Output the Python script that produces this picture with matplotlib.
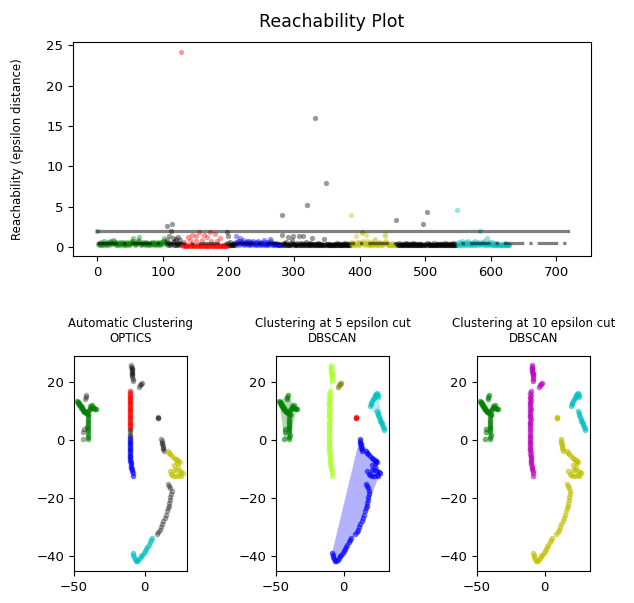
import numpy as np
import matplotlib
matplotlib.use("Agg")
import matplotlib.pyplot as plt

# ---------------- data ----------------
n_samples = 719

# reachability values in cluster ordering, one list per run of the ordering
reach_green = [2.0, 0.4, 0.3, 0.5, 0.4, 0.3, 0.6, 0.4, 0.5, 0.3,
               0.4, 0.7, 0.5, 0.4, 0.3, 0.5, 0.6, 0.4, 0.3, 0.5,
               0.8, 0.6, 0.4, 0.5, 0.9, 0.7, 0.5, 0.4, 0.6, 0.3,
               0.4, 0.5, 0.3, 0.4, 0.6, 0.5, 0.3, 0.4, 0.5, 0.6,
               0.4, 0.3, 0.5, 0.4, 0.3, 0.4, 0.6, 0.5, 0.4, 0.3,
               0.5, 0.4, 0.6, 0.8, 1.1, 0.7, 0.5, 0.4, 0.3, 0.5,
               0.4, 0.6, 0.9, 1.2, 0.8, 0.5, 0.4, 0.3, 0.4, 0.5,
               0.6, 0.4, 0.3, 0.5, 0.4, 0.6, 0.5, 0.3, 0.4, 0.5,
               0.4, 0.3, 0.5, 0.6, 0.4, 0.5, 0.3, 0.4, 0.6, 0.5,
               0.4, 0.3, 0.4, 0.5, 0.6, 0.4, 0.3, 0.5, 0.4, 0.6,
               0.8, 1.1, 0.7, 0.5, 0.4, 0.6]
reach_noise1 = [2.6, 0.9, 0.3, 1.3, 0.5, 0.2, 0.4, 2.0, 2.85, 0.6, 1.1,
                0.3, 0.2, 0.8, 1.0, 0.4, 0.2, 1.2, 0.5, 0.3, 0.9, 0.4]
reach_red = [24.1, 0.3, 0.2, 0.1, 0.6, 0.1, 0.2, 0.1, 0.1, 0.2,
             1.2, 0.1, 0.2, 0.9, 0.1, 0.1, 0.2, 1.5, 0.1, 0.2,
             0.1, 0.1, 1.3, 0.8, 0.1, 0.2, 0.1, 1.8, 0.2, 0.1,
             0.1, 0.9, 0.1, 0.2, 0.1, 1.5, 0.1, 0.1, 0.2, 0.1,
             1.2, 0.1, 0.2, 0.1, 1.8, 0.1, 0.8, 0.2, 0.1, 0.1,
             0.2, 0.1, 1.6, 0.1, 0.1, 0.8, 0.2, 0.1, 0.1, 1.1,
             0.1, 0.2, 0.1, 0.1, 0.2, 0.1, 0.1, 0.2, 0.1, 0.1]
reach_noise2 = [1.8, 1.4, 0.5, 0.3, 0.2, 0.6, 0.3, 0.2, 0.4, 0.3, 0.2, 0.5, 0.3]
reach_blue = [1.3, 0.6, 0.4, 0.8, 0.5, 0.3, 1.1, 0.7, 0.5, 0.4,
              0.6, 0.9, 0.5, 0.3, 0.4, 0.6, 0.5, 0.8, 0.4, 0.3,
              0.5, 0.7, 0.4, 0.6, 0.3, 0.5, 0.4, 0.8, 0.5, 0.3,
              0.4, 0.6, 0.5, 0.3, 0.7, 0.4, 0.5, 0.3, 0.4, 0.6,
              0.5, 0.3, 0.4, 0.9, 0.6, 0.4, 0.3, 0.5, 0.4, 0.3,
              0.6, 0.4, 0.5, 1.0, 0.7, 0.4, 0.3, 0.5, 0.4, 0.3,
              0.4, 0.3, 0.5, 0.4, 0.3, 0.2, 0.4, 0.3, 0.2, 0.3]
reach_noise3 = [4.0, 1.5, 0.3, 0.5, 0.2, 0.4, 0.3, 0.6, 0.2, 0.3,
                1.2, 0.4, 0.3, 0.2, 0.5, 0.3, 0.9, 0.4, 1.3, 0.3,
                0.2, 0.4, 0.3, 0.5, 0.2, 0.3, 1.3, 0.4, 0.2, 0.3,
                0.5, 0.3, 1.4, 0.2, 0.4, 0.3, 0.2, 0.6, 0.3, 5.2,
                0.3, 0.4, 0.2, 0.5, 0.3, 0.2, 1.1, 0.3, 0.4, 0.2,
                0.3, 16.0, 0.4, 0.2, 0.3, 0.5, 0.2, 0.3, 0.4, 0.2,
                0.3, 0.2, 0.4, 0.3, 1.0, 0.2, 0.3, 7.9, 0.4, 0.2,
                0.3, 0.2, 0.4, 0.3, 0.2, 0.3, 0.4, 0.2, 0.3, 0.2,
                0.4, 0.3, 0.2, 0.3, 0.5, 0.2, 0.3, 0.2, 0.4, 0.3,
                0.2, 0.3, 0.2, 0.4, 0.3, 0.2, 0.3, 0.5, 0.2, 0.3,
                0.2, 0.4, 0.3, 0.2, 0.3]
reach_yellow = [3.9, 0.5, 0.3, 0.6, 0.4, 0.3, 0.5, 0.2, 0.4, 1.4,
                0.6, 0.3, 0.5, 0.4, 0.3, 0.6, 0.5, 1.9, 1.7, 0.8,
                0.5, 0.4, 0.3, 0.5, 1.5, 0.7, 0.4, 0.3, 0.5, 0.2,
                0.4, 0.6, 0.3, 0.5, 0.4, 0.3, 0.7, 1.0, 0.4, 0.3,
                0.5, 0.2, 0.4, 0.3, 0.6, 0.5, 0.4, 0.3, 0.5, 0.4,
                0.3, 0.6, 1.3, 1.6, 0.7, 0.5, 0.4, 0.3, 0.2, 0.4,
                0.3, 0.5, 0.2, 0.4, 0.3, 0.2, 0.4, 0.3, 0.2, 0.3]
reach_noise4 = [3.3, 0.4, 0.2, 0.3, 0.5, 0.2, 0.3, 0.4, 0.2, 0.3,
                0.2, 0.4, 0.3, 0.2, 0.5, 0.3, 0.2, 0.3, 0.4, 0.2,
                0.3, 0.2, 0.4, 0.3, 0.2, 0.3, 0.5, 0.2, 0.3, 0.4,
                0.2, 0.3, 0.2, 0.4, 0.3, 0.2, 0.3, 0.4, 0.2, 0.3,
                0.2, 2.8, 0.3, 0.4, 0.2, 0.3, 0.5, 4.3, 0.2, 0.3,
                0.4, 0.2, 0.3, 0.2, 0.4, 0.3, 0.2, 0.3, 0.5, 0.2,
                0.3, 0.2, 0.4, 0.3, 0.2, 0.3, 0.4, 0.2, 0.3, 0.2,
                0.4, 0.3, 0.2, 0.3, 0.5, 0.2, 0.3, 0.2, 0.4, 0.3,
                0.2, 0.3, 0.2, 0.4, 0.3, 0.2, 0.3, 0.5, 0.2, 0.3,
                0.2, 0.3]
reach_cyan = [4.6, 0.5, 0.3, 0.6, 0.4, 0.2, 0.5, 0.3, 0.8, 0.4,
              0.3, 0.5, 0.2, 0.4, 0.6, 0.3, 0.5, 0.7, 0.4, 0.3,
              0.5, 0.2, 0.4, 0.3, 0.6, 0.5, 0.3, 0.4, 0.8, 0.5,
              0.3, 0.4, 0.6, 0.3, 0.5, 0.4, 2.0, 0.3, 0.6, 0.4,
              0.5, 0.3, 0.7, 0.4, 0.2, 0.5, 1.1, 0.3, 0.4, 0.6,
              0.3, 0.5, 0.4, 0.2, 0.6, 0.3, 0.5, 0.4, 0.3, 0.2,
              0.4, 0.3, 0.5, 0.2, 0.4, 0.3, 0.2, 0.4, 0.3, 0.2,
              0.3, 0.4, 0.2, 0.3, 0.5, 0.2, 0.3, 0.4, 0.2, 0.3,
              0.2]
reach_runs = [reach_green, reach_noise1, reach_red, reach_noise2, reach_blue,
              reach_noise3, reach_yellow, reach_noise4, reach_cyan]
reach_run_labels = [0, -1, 1, -1, 2, -1, 3, -1, 4]

eps_lines = [2.0, 0.5]

# 2-D samples, grouped by structure
g_core_x = [-47.6, -47.0, -46.4, -45.8, -45.2, -44.6, -44.0, -43.4, -42.8, -42.2, -41.6, -41.0,
            -47.2, -46.2, -45.0, -43.8, -42.6, -41.4,
            -39.6, -38.9, -38.2, -37.5, -36.8, -36.1, -35.4, -34.7, -38.5, -37.0,
            -40.0, -40.2, -40.4, -40.3, -40.1, -40.2, -40.4, -40.3, -40.1, -40.0, -40.2, -40.1,
            -39.8, -40.5]
g_core_y = [13.3, 13.0, 12.6, 12.2, 11.8, 11.3, 10.9, 10.5, 10.1, 9.8, 9.6, 9.5,
            12.6, 12.0, 11.2, 10.3, 9.6, 9.2,
            10.2, 10.8, 11.2, 11.4, 11.2, 11.0, 10.8, 10.7, 11.8, 12.0,
            9.0, 8.2, 7.4, 6.6, 5.8, 5.0, 4.2, 3.4, 2.6, 1.8, 1.0, 0.3,
            8.6, 4.6]
g_edge_x = [-41.3, -41.8, -42.2, -43.0, -43.4, -43.8]
g_edge_y = [15.6, 14.8, 14.0, 3.6, 2.8, 0.3]
v_top_x = [-9.4, -9.3, -9.1, -9.0, -8.9, -8.8, -8.7, -8.6, -8.5, -8.4, -9.2, -8.8]
v_top_y = [25.9, 25.3, 24.7, 24.1, 23.5, 22.9, 22.3, 21.7, 21.1, 20.5, 24.4, 23.2]
v_mid_x = [-10.2, -10.4, -10.3, -10.5, -10.4, -10.3, -10.5, -10.4, -10.6, -10.4, -10.3,
           -10.5, -10.4, -10.6, -10.5, -10.4, -10.3, -10.5, -10.4, -10.6, -10.5, -10.4]
v_mid_y = [16.8, 16.2, 15.6, 15.0, 14.4, 13.8, 13.2, 12.6, 12.0, 11.4, 10.8,
           10.2, 9.6, 9.0, 8.4, 7.8, 7.2, 6.6, 6.0, 5.4, 4.8, 4.2]
v_gap_x = [-10.5, -10.6, -10.4, -10.5]
v_gap_y = [3.4, 2.6, 1.8, 1.2]
v_low_x = [-10.5, -10.6, -10.5, -10.4, -10.6, -10.5, -10.4, -10.5, -10.3, -10.4, -10.2,
           -10.3, -10.1, -10.0, -9.9, -9.8, -9.6, -9.4, -9.1, -8.8, -8.5, -8.3]
v_low_y = [0.6, 0.0, -0.6, -1.2, -1.8, -2.4, -3.0, -3.6, -4.2, -4.8, -5.4,
           -6.0, -6.6, -7.2, -7.8, -8.4, -9.0, -9.6, -10.2, -10.8, -11.5, -12.3]
small_x = [-3.8, -3.0, -2.3, -1.6]
small_y = [18.4, 18.9, 19.3, 19.6]
lone_x = [9.3, 9.4, 9.5]
lone_y = [7.8, 7.7, 7.6]
ur_x = [19.5, 20.1, 20.7, 21.3, 21.9, 22.5, 23.1, 23.7, 24.3, 24.9, 25.3, 25.6,
        24.8, 25.3, 25.8, 26.3, 26.8, 27.3, 27.8, 28.3, 28.8, 29.3, 29.8, 30.3]
ur_y = [11.6, 12.3, 12.9, 13.5, 14.0, 14.6, 15.1, 15.6, 16.0, 16.2, 15.6, 14.8,
        10.0, 9.3, 8.6, 7.9, 7.3, 6.7, 6.2, 5.7, 5.1, 4.5, 4.0, 3.5]
r_top_x = [11.9, 12.1, 12.4, 12.6, 12.9, 13.1, 13.4, 13.7]
r_top_y = [0.3, -0.3, -0.9, -1.5, -2.1, -2.7, -3.3, -3.9]
r_bend_x = [16.5, 17.4, 18.4, 19.6, 20.8, 22.0, 23.1, 24.0, 24.8, 23.6, 22.4, 24.8,
            26.0, 27.1, 25.9, 24.5, 22.8, 21.2, 19.8, 18.9, 17.7, 21.2, 20.8, 23.0]
r_bend_y = [-4.0, -4.4, -4.9, -5.5, -6.1, -6.5, -6.9, -7.2, -7.5, -9.2, -10.3, -10.9,
            -11.2, -11.5, -12.3, -12.0, -12.4, -12.3, -12.0, -11.8, -10.9, -8.6, -10.3, -8.0]
r_mid_x = [16.3, 17.2, 18.3, 19.2, 18.8, 18.4, 18.0, 17.6, 17.2, 16.7, 16.0, 15.2,
           14.3, 13.4, 12.5, 11.6, 10.7, 9.8, 8.8]
r_mid_y = [-15.2, -15.8, -16.5, -17.5, -18.6, -19.7, -20.7, -21.7, -22.7, -23.7, -24.7,
           -25.8, -26.9, -28.0, -29.0, -30.0, -31.0, -31.9, -32.6]
r_tail_x = [5.6, 4.7, 3.8, 2.9, 2.0, 1.1, 0.2, -0.7, -1.6, -2.5, -3.4, -4.3, -5.2,
            -6.1, -7.0, -7.6, -8.1, -8.5]
r_tail_y = [-33.8, -34.6, -35.4, -36.2, -37.0, -37.7, -38.4, -39.0, -39.6, -40.2,
            -40.8, -41.4, -41.9, -42.0, -41.3, -40.6, -39.8, -39.1]

groups = ["g_core", "g_edge", "v_top", "v_mid", "v_gap", "v_low", "small", "lone",
          "ur", "r_top", "r_bend", "r_mid", "r_tail"]
group_x = [g_core_x, g_edge_x, v_top_x, v_mid_x, v_gap_x, v_low_x, small_x, lone_x,
           ur_x, r_top_x, r_bend_x, r_mid_x, r_tail_x]
group_y = [g_core_y, g_edge_y, v_top_y, v_mid_y, v_gap_y, v_low_y, small_y, lone_y,
           ur_y, r_top_y, r_bend_y, r_mid_y, r_tail_y]
# cluster labels per group (None = not shown, -1 = noise)
labels_optics = [0, -1, -1, 1, -1, 2, -1, -1, None, -1, 3, -1, 4]
labels_db5 = [0, 0, 1, 1, 1, 1, 2, 3, 4, 5, 5, 5, 5]
labels_db10 = [0, 0, 1, 1, 1, 1, 1, 2, 3, 2, 2, 2, 2]

# ---------------- styles ----------------
optics_colors = {0: "g", 1: "r", 2: "b", 3: "y", 4: "c", -1: "k"}
db5_colors = {0: "g", 1: "greenyellow", 2: "olive", 3: "r", 4: "c", 5: "b"}
db10_colors = {0: "g", 1: "m", 2: "y", 3: "c"}
MS = 4.0


def convex_hull(pts):
    pts = sorted(set(pts))
    if len(pts) < 3:
        return pts

    def cross(o, a, b):
        return (a[0] - o[0]) * (b[1] - o[1]) - (a[1] - o[1]) * (b[0] - o[0])
    lower, upper = [], []
    for p in pts:
        while len(lower) >= 2 and cross(lower[-2], lower[-1], p) <= 0:
            lower.pop()
        lower.append(p)
    for p in reversed(pts):
        while len(upper) >= 2 and cross(upper[-2], upper[-1], p) <= 0:
            upper.pop()
        upper.append(p)
    return lower[:-1] + upper[:-1]


fig = plt.figure(figsize=(6.34, 6.03), dpi=100)
W, H = 634.0, 603.0
ax1 = fig.add_axes([73 / W, 1 - 256 / H, (591 - 73) / W, (256 - 42) / H])
ax2 = fig.add_axes([74 / W, 1 - 571 / H, 113 / W, 215 / H])
ax3 = fig.add_axes([276 / W, 1 - 571 / H, 113 / W, 215 / H])
ax4 = fig.add_axes([477 / W, 1 - 571 / H, 113 / W, 215 / H])

# reachability plot
start = 0
for vals, lab in zip(reach_runs, reach_run_labels):
    idx = np.arange(start, start + len(vals))
    ax1.plot(idx, vals, "o", color=optics_colors[lab], alpha=0.4, ms=3.8, mew=0)
    start += len(vals)
space = np.arange(n_samples)
ax1.plot(space, np.full_like(space, eps_lines[0], dtype=float), "k-", alpha=0.5, lw=2.3)
ax1.plot(space, np.full_like(space, eps_lines[1], dtype=float), "k-.", alpha=0.5, lw=2.3)
ax1.set_xlim(-37, 752.6)
ax1.set_ylim(-1.12, 25.4)
ax1.set_xticks(range(0, 701, 100))
ax1.set_yticks(range(0, 26, 5))
ax1.set_ylabel("Reachability (epsilon distance)", fontsize=8.5, labelpad=16)
ax1.set_title("Reachability Plot", fontsize=12.5, pad=11)

# OPTICS clustering
for gx, gy, lab in zip(group_x, group_y, labels_optics):
    if lab is None:
        continue
    a = 0.35 if lab == -1 else 0.6
    ax2.plot(gx, gy, "o", color=optics_colors[lab], alpha=a, ms=MS, mew=0)
ax2.set_title("Automatic Clustering\nOPTICS", fontsize=8.5, pad=10)

# DBSCAN at 5
for lab, col in db5_colors.items():
    xs = [x for gx, l in zip(group_x, labels_db5) if l == lab for x in gx]
    ys = [y for gy, l in zip(group_y, labels_db5) if l == lab for y in gy]
    ax3.plot(xs, ys, "o", color=col, alpha=0.6, ms=MS, mew=0)
    hull = convex_hull(list(zip(xs, ys)))
    if len(hull) >= 3:
        hx, hy = zip(*hull)
        ax3.fill(hx, hy, color=col, alpha=0.3, lw=0)
ax3.set_title("Clustering at 5 epsilon cut\nDBSCAN", fontsize=8.5, pad=10)

# DBSCAN at 10
for lab, col in db10_colors.items():
    xs = [x for gx, l in zip(group_x, labels_db10) if l == lab for x in gx]
    ys = [y for gy, l in zip(group_y, labels_db10) if l == lab for y in gy]
    ax4.plot(xs, ys, "o", color=col, alpha=0.6, ms=MS, mew=0)
ax4.set_title("Clustering at 10 epsilon cut\nDBSCAN", fontsize=8.5, pad=10)

ax2.set_xlim(-50, 30.1)
for ax in (ax3, ax4):
    ax.set_xlim(-50, 33.7)
for ax in (ax2, ax3, ax4):
    ax.set_ylim(-45.3, 29)
    ax.set_xticks([-50, 0])
    ax.set_yticks([-40, -20, 0, 20])
for ax in (ax1, ax2, ax3, ax4):
    ax.tick_params(labelsize=9.5)

fig.savefig("out.png", dpi=100)
